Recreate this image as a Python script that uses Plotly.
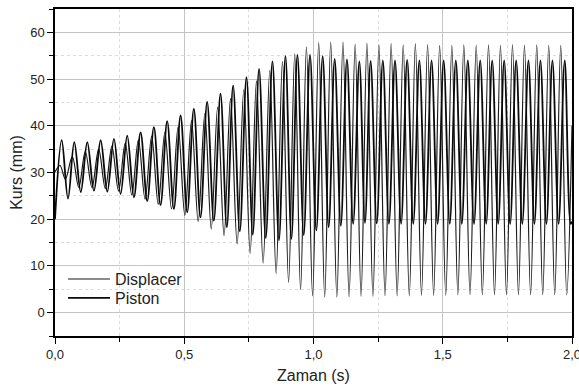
import plotly.graph_objects as go

# ---- Displacer: start point, peak / trough times (s) and values (mm)
disp_start = [0.0, 30.1]
disp_end = [2.0, 40.0]
disp_peak_t = [0.0193, 0.0668, 0.1171, 0.1689, 0.2202, 0.2716, 0.3226, 0.3740, 0.4250, 0.4764,
               0.5282, 0.5796, 0.6291, 0.6789, 0.7303, 0.7794, 0.8308, 0.8798, 0.9274, 0.9726,
               1.0201, 1.0665, 1.1140, 1.1611, 1.2067, 1.2531, 1.3002, 1.3470, 1.3941, 1.4413,
               1.4880, 1.5352, 1.5815, 1.6294, 1.6770, 1.7233, 1.7697, 1.8161, 1.8636, 1.9100,
               1.9564]
disp_peak_v = [31.5, 33.4, 34.5, 35.0, 35.6, 36.3, 37.0, 37.8, 38.6, 39.8,
               41.1, 42.6, 44.0, 45.8, 47.7, 49.6, 51.8, 53.8, 55.4, 56.9,
               57.8, 57.9, 57.9, 57.5, 57.7, 57.4, 57.6, 57.3, 57.6, 57.4,
               57.2, 57.2, 57.3, 57.2, 57.3, 57.2, 57.4, 57.2, 57.3, 57.2,
               57.2]
disp_trough_t = [0.0400, 0.0920, 0.1430, 0.1946, 0.2459, 0.2971, 0.3483, 0.3995, 0.4507, 0.5023,
                 0.5539, 0.6044, 0.6540, 0.7046, 0.7549, 0.8051, 0.8553, 0.9036, 0.9500, 0.9964,
                 1.0433, 1.0903, 1.1376, 1.1839, 1.2299, 1.2767, 1.3236, 1.3706, 1.4177, 1.4647,
                 1.5116, 1.5584, 1.6055, 1.6532, 1.7002, 1.7465, 1.7929, 1.8399, 1.8868, 1.9332,
                 1.9796]
disp_trough_v = [28.6, 26.8, 26.8, 26.6, 26.0, 25.2, 24.3, 23.2, 22.2, 20.8,
                 19.5, 17.9, 16.5, 14.7, 12.7, 10.6, 8.4, 6.5, 4.9, 3.6,
                 3.3, 3.3, 3.4, 3.5, 3.5, 3.6, 3.6, 3.6, 3.7, 3.7,
                 3.7, 3.8, 3.8, 3.8, 3.8, 3.8, 3.8, 3.8, 3.8, 3.8,
                 3.8]

# ---- Piston
pist_start = [0.0, 20.0]
pist_end = [2.0, 19.5]
pist_peak_t = [0.0259, 0.0746, 0.1248, 0.1766, 0.2280, 0.2794, 0.3311, 0.3825, 0.4339, 0.4857,
               0.5371, 0.5885, 0.6403, 0.6890, 0.7407, 0.7894, 0.8412, 0.8914, 0.9378, 0.9865,
               1.0355, 1.0819, 1.1294, 1.1774, 1.2210, 1.2682, 1.3153, 1.3624, 1.4096, 1.4567,
               1.5035, 1.5506, 1.5970, 1.6449, 1.6913, 1.7376, 1.7840, 1.8315, 1.8779, 1.9243,
               1.9718]
pist_peak_v = [36.9, 36.5, 36.5, 36.9, 37.2, 37.9, 38.6, 39.7, 41.0, 42.2,
               43.6, 45.1, 46.9, 48.6, 50.4, 52.2, 53.8, 54.9, 55.2, 55.2,
               54.9, 54.3, 54.2, 53.8, 53.9, 54.0, 54.0, 54.1, 54.0, 54.0,
               54.0, 54.0, 54.0, 54.0, 54.0, 54.0, 54.0, 54.0, 54.0, 54.0,
               54.0]
pist_trough_t = [0.0503, 0.0997, 0.1507, 0.2023, 0.2537, 0.3053, 0.3568, 0.4082, 0.4598, 0.5114,
                 0.5628, 0.6144, 0.6647, 0.7149, 0.7651, 0.8153, 0.8663, 0.9146, 0.9622, 1.0110,
                 1.0587, 1.1057, 1.1534, 1.1992, 1.2446, 1.2918, 1.3389, 1.3860, 1.4332, 1.4801,
                 1.5271, 1.5738, 1.6210, 1.6681, 1.7145, 1.7608, 1.8078, 1.8547, 1.9011, 1.9481,
                 1.9950]
pist_trough_v = [24.4, 25.8, 26.1, 25.9, 25.4, 24.7, 23.9, 23.0, 22.2, 21.5,
                 20.4, 19.7, 18.3, 17.4, 16.7, 16.0, 15.5, 15.8, 16.6, 17.6,
                 18.3, 18.6, 19.0, 19.2, 19.1, 19.0, 19.0, 19.0, 19.0, 19.0,
                 19.0, 19.0, 19.0, 19.0, 19.0, 19.0, 19.0, 19.0, 19.0, 19.0,
                 19.0]


def series(start, pt, pv, tt, tv, end):
    pts = [tuple(start)] + list(zip(pt, pv)) + list(zip(tt, tv)) + [tuple(end)]
    pts = sorted(set(pts))
    return [p[0] for p in pts], [p[1] for p in pts]


dx, dy = series(disp_start, disp_peak_t, disp_peak_v, disp_trough_t, disp_trough_v, disp_end)
px, py = series(pist_start, pist_peak_t, pist_peak_v, pist_trough_t, pist_trough_v, pist_end)

fig = go.Figure()
fig.add_trace(go.Scatter(x=dx, y=dy, mode="lines", name="Displacer", legend="legend",
                         line=dict(color="#1a1a1a", width=1.2, shape="spline", smoothing=1.0)))
fig.add_trace(go.Scatter(x=px, y=py, mode="lines", name="Piston", legend="legend2",
                         line=dict(color="#0a0a0a", width=1.8, shape="spline", smoothing=1.0)))

axis_font = dict(family="Liberation Sans, Arial, sans-serif", size=13, color="#222")
leg_common = dict(xanchor="left", yanchor="top", bgcolor="rgba(0,0,0,0)",
                  font=dict(size=16, color="#222"), itemwidth=42)
fig.update_layout(
    width=579, height=387,
    margin=dict(l=55, r=7, t=9, b=51),
    paper_bgcolor="white", plot_bgcolor="white",
    separators=", ",
    font=axis_font,
    showlegend=True,
    legend=dict(x=0.0155, y=0.226, **leg_common),
    legend2=dict(x=0.0155, y=0.168, **leg_common),
    xaxis=dict(range=[0, 2], dtick=0.5, tick0=0, tickformat=".1f", automargin=False,
               ticklabeloverflow="allow",
               showline=True, linecolor="black", linewidth=1.5, mirror=True,
               ticks="outside", ticklen=6, tickwidth=1.2, tickcolor="black",
               showgrid=True, gridcolor="#c4c4c4", gridwidth=1, zeroline=False,
               title=dict(text="Zaman (s)", font=dict(size=16), standoff=8),
               minor=dict(dtick=0.25, ticks="outside", ticklen=4, tickcolor="black",
                          showgrid=True, gridcolor="#dcdcdc", griddash="dot")),
    yaxis=dict(range=[-5, 65], dtick=10, tick0=0, automargin=False,
               showline=True, linecolor="black", linewidth=1.5, mirror=True,
               ticks="outside", ticklen=6, tickwidth=1.2, tickcolor="black",
               showgrid=True, gridcolor="#c4c4c4", gridwidth=1, zeroline=False,
               title=dict(text="Kurs (mm)", font=dict(size=16), standoff=4),
               minor=dict(dtick=5, tick0=0, ticks="outside", ticklen=4, tickcolor="black",
                          showgrid=True, gridcolor="#dcdcdc", griddash="dot")),
)

fig.write_html("out.html", config={"displayModeBar": False},
               post_script="document.body.style.margin='0';document.body.style.overflow='hidden';")
